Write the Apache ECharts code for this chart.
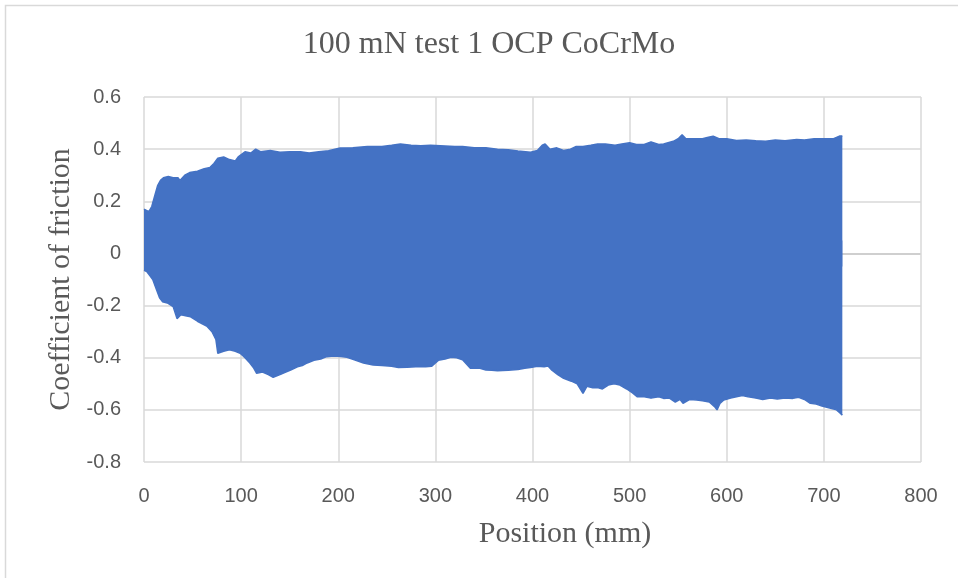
<!DOCTYPE html>
<html>
<head>
<meta charset="utf-8">
<script src="https://cdn.jsdelivr.net/npm/echarts@6/dist/echarts.min.js"></script>
<style>html,body{margin:0;padding:0;background:#fff}#c{width:958px;height:578px}</style>
</head>
<body>
<div id="c"></div>
<script>
// Chart text
const titleText = "100 mN test 1 OCP CoCrMo";
const xName = "Position (mm)";
const yName = "Coefficient of friction";
const xTicks = [0, 100, 200, 300, 400, 500, 600, 700, 800];
const yTicks = [-0.8, -0.6, -0.4, -0.2, 0, 0.2, 0.4, 0.6];

// Upper envelope of the oscillating friction signal: position (mm), COF
const upperPos = [0,2,5,8,11,14,17,20,25,30,35,37,42,47,55,62,68,72,76,82,88,94,97,104,110,115,120,130,140,150,161,170,180,190,202,215,230,245,255,264,275,285,295,310,320,328,340,352,364,375,385,398,405,410,413,418,425,432,439,445,452,460,467,475,485,492,500,507,515,522,530,535,545,550,554,558,565,575,580,586,592,600,610,620,630,640,650,660,672,680,690,700,710,716,719];
const upperCof = [0.17,0.175,0.16,0.18,0.22,0.26,0.28,0.29,0.295,0.29,0.29,0.28,0.3,0.31,0.315,0.325,0.33,0.345,0.365,0.37,0.36,0.355,0.37,0.39,0.385,0.4,0.39,0.395,0.388,0.39,0.39,0.385,0.39,0.394,0.404,0.405,0.41,0.41,0.415,0.42,0.415,0.413,0.415,0.412,0.41,0.41,0.405,0.405,0.4,0.398,0.393,0.388,0.395,0.415,0.42,0.4,0.405,0.395,0.4,0.41,0.41,0.415,0.42,0.42,0.415,0.42,0.425,0.418,0.418,0.428,0.418,0.42,0.43,0.44,0.455,0.44,0.44,0.44,0.445,0.45,0.44,0.44,0.433,0.435,0.432,0.43,0.435,0.432,0.437,0.435,0.44,0.44,0.44,0.45,0.45];

// Lower envelope: position (mm), COF
const lowerPos = [0,3,6,9,13,16,19,24,30,34,38,44,48,55,60,65,70,74,76,82,88,94,99,104,109,113,116,122,128,133,140,146,151,158,163,168,175,182,188,195,203,209,218,226,236,245,255,262,271,280,290,296,303,310,316,322,328,336,345,352,358,364,375,385,392,398,405,412,416,420,426,432,440,446,452,456,462,467,472,478,484,490,497,503,508,515,522,530,535,541,547,552,555,562,569,575,582,588,590,593,597,604,610,616,622,630,637,645,652,660,668,674,680,686,692,698,703,708,713,716,719];
const lowerCof = [-0.065,-0.07,-0.085,-0.1,-0.14,-0.17,-0.185,-0.19,-0.204,-0.25,-0.235,-0.24,-0.243,-0.26,-0.27,-0.28,-0.3,-0.33,-0.383,-0.375,-0.37,-0.375,-0.383,-0.4,-0.42,-0.44,-0.46,-0.455,-0.465,-0.475,-0.465,-0.455,-0.447,-0.435,-0.43,-0.42,-0.41,-0.405,-0.396,-0.393,-0.395,-0.398,-0.41,-0.42,-0.428,-0.43,-0.433,-0.438,-0.437,-0.435,-0.435,-0.433,-0.41,-0.405,-0.398,-0.4,-0.408,-0.44,-0.44,-0.447,-0.448,-0.45,-0.448,-0.445,-0.44,-0.438,-0.433,-0.435,-0.432,-0.448,-0.465,-0.479,-0.49,-0.5,-0.537,-0.51,-0.515,-0.514,-0.52,-0.505,-0.5,-0.505,-0.52,-0.535,-0.55,-0.55,-0.555,-0.55,-0.556,-0.555,-0.57,-0.56,-0.575,-0.56,-0.562,-0.565,-0.57,-0.59,-0.6,-0.575,-0.562,-0.555,-0.55,-0.545,-0.55,-0.555,-0.56,-0.555,-0.558,-0.555,-0.556,-0.552,-0.56,-0.575,-0.578,-0.585,-0.59,-0.595,-0.6,-0.61,-0.62];

const blue = '#4472C4';
const textCol = '#595959';
const gridCol = '#d9d9d9';

const chart = echarts.init(document.getElementById('c'), null, {renderer: 'canvas'});
const zeroIdx = yTicks.indexOf(0);
const splitColors = yTicks.map((v, i) => i === zeroIdx ? '#bfbfbf' : gridCol);

chart.setOption({
  animation: false,
  backgroundColor: '#fff',
  graphic: [{
    type: 'rect', shape: {x: 5.5, y: 5.5, width: 1200, height: 1200},
    style: {fill: 'none', stroke: '#d9d9d9', lineWidth: 1.5}, silent: true, z: -10
  }],
  title: {
    text: titleText, left: 489, top: 29, textAlign: 'center', padding: 0,
    textStyle: {fontFamily: 'Liberation Serif', fontSize: 32, fontWeight: 'normal', color: textCol}
  },
  grid: {left: 144, right: 37, top: 97, bottom: 116, containLabel: false},
  xAxis: {
    type: 'value', min: xTicks[0], max: xTicks[xTicks.length - 1], interval: 100,
    name: xName, nameLocation: 'middle', nameGap: 57,
    nameTextStyle: {fontFamily: 'Liberation Serif', fontSize: 30, color: textCol, padding: [0, 0, 0, 65]},
    axisLine: {show: false}, axisTick: {show: false},
    axisLabel: {margin: 24, fontFamily: 'Liberation Sans', fontSize: 20, color: textCol},
    splitLine: {show: true, lineStyle: {color: gridCol, width: 1.5}}
  },
  yAxis: {
    type: 'value', min: yTicks[0], max: yTicks[yTicks.length - 1], interval: 0.2,
    name: yName, nameLocation: 'middle', nameGap: 68, nameRotate: 90,
    nameTextStyle: {fontFamily: 'Liberation Serif', fontSize: 30, color: textCol},
    axisLine: {show: false}, axisTick: {show: false},
    axisLabel: {margin: 23, fontFamily: 'Liberation Sans', fontSize: 20, color: textCol,
      formatter: v => String(Math.round(v * 10) / 10)},
    splitLine: {show: true, lineStyle: {color: splitColors, width: 1.5}}
  },
  series: [
    {
      type: 'line', name: 'upper', symbol: 'none', silent: true,
      data: upperPos.map((p, i) => [p, upperCof[i]]),
      lineStyle: {color: blue, width: 1.5}, itemStyle: {color: blue},
      areaStyle: {color: blue, opacity: 1, origin: -0.05}
    },
    {
      type: 'line', name: 'lower', symbol: 'none', silent: true,
      data: lowerPos.map((p, i) => [p, lowerCof[i]]),
      lineStyle: {color: blue, width: 1.5}, itemStyle: {color: blue},
      areaStyle: {color: blue, opacity: 1, origin: 0.05}
    }
  ]
});
</script>
</body>
</html>
